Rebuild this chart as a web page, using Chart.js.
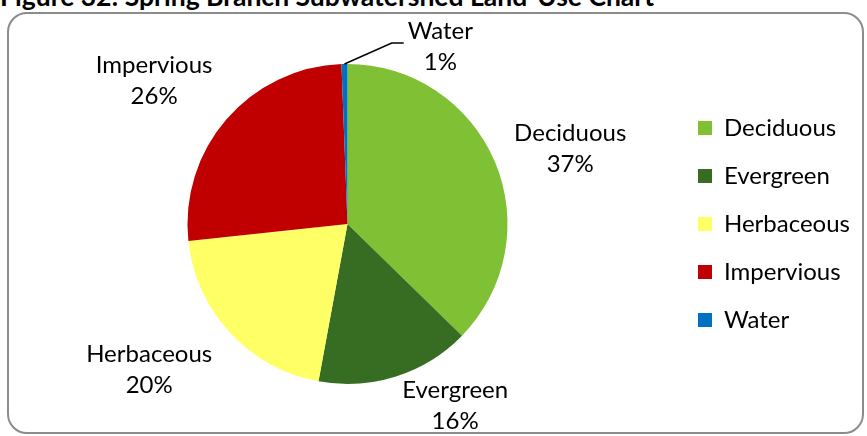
<!DOCTYPE html>
<html>
<head>
<meta charset="utf-8">
<script src="https://cdn.jsdelivr.net/npm/chart.js@4.4.1/dist/chart.umd.min.js"></script>
<style>
  body { margin: 0; background: #fff; overflow: hidden; }
  #wrap { position: relative; width: 867px; height: 436px; }
  #title { position: absolute; left: 0; top: -20px; font: bold 26.5px Lato, sans-serif; color: #000; white-space: nowrap; }
  #frame { position: absolute; left: 7px; top: 12px; width: 857px; height: 422px; box-sizing: border-box;
           border: 2px solid #8c8c8c; border-radius: 20px; pointer-events: none; }
  canvas { position: absolute; left: 0; top: 0; }
</style>
</head>
<body>
<div id="wrap">
  <div id="title">Figure 32: Spring Branch Subwatershed Land-Use Chart</div>
  <div id="frame"></div>
  <canvas id="landUse" width="867" height="436"></canvas>
</div>
<script>
  var landUseLabels = ["Deciduous", "Evergreen", "Herbaceous", "Impervious", "Water"]
  var landUseValues = [37.3, 15.6, 20.4, 26.1, 0.6]
  var landUseColors = ['#80c034', '#376d22', '#ffff66', '#c00000', '#0070c0']

  // nudges for the data labels (Excel "best fit" places them by hand-ish)
  var labelNudge = [[20, 10], [41, -28], [-37, -4], [-27, 0], [97, 42]]

  var labelFont = "24px Lato, sans-serif"

  var pieLabels = {
    id: 'pieLabels',
    afterDatasetsDraw: function(chart) {
      var ctx = chart.ctx
      var meta = chart.getDatasetMeta(0)
      var data = chart.data.datasets[0].data
      var total = data.reduce(function(a, b) { return a + b }, 0)
      ctx.save()
      ctx.font = labelFont
      ctx.fillStyle = '#000'
      ctx.textAlign = 'center'
      ctx.textBaseline = 'alphabetic'
      meta.data.forEach(function(arc, i) {
        var p = arc.getProps(['x', 'y', 'startAngle', 'endAngle', 'outerRadius'], true)
        var mid = (p.startAngle + p.endAngle) / 2
        var cx = p.x + Math.cos(mid) * (p.outerRadius + 60) + labelNudge[i][0]
        var cy = p.y + Math.sin(mid) * (p.outerRadius + 60) + labelNudge[i][1]
        var pct = Math.round(data[i] / total * 100) + '%'
        ctx.fillText(chart.data.labels[i], cx, cy - 15.5 + 8)
        ctx.fillText(pct, cx, cy + 15.5 + 8)

        if (i == 4) {
          // leader line for the tiny water slice
          var w = ctx.measureText(chart.data.labels[i]).width
          var ex = cx - w / 2 - 4
          var ey = cy - 3
          ctx.beginPath()
          ctx.strokeStyle = '#000'
          ctx.lineWidth = 1.5
          ctx.moveTo(p.x + Math.cos(mid) * p.outerRadius, p.y + Math.sin(mid) * p.outerRadius)
          ctx.lineTo(ex - 12, ey)
          ctx.lineTo(ex, ey)
          ctx.stroke()
        }
      })
      ctx.restore()
    }
  }

  var ctx = document.getElementById("landUse").getContext('2d')

  var chartData = {
    type: 'pie',
    data: {
      labels: landUseLabels,
      datasets: [{
        data: landUseValues,
        backgroundColor: landUseColors,
        borderWidth: 0
      }]
    },
    options: {
      responsive: false,
      animation: false,
      layout: { padding: { left: 21, right: 7, top: 64, bottom: 52 } },
      plugins: {
        tooltip: { enabled: false },
        legend: {
          position: 'right',
          align: 'center',
          labels: {
            boxWidth: 14,
            boxHeight: 14,
            padding: 24,
            color: '#000',
            font: { family: 'Lato, sans-serif', size: 24 }
          }
        }
      }
    },
    plugins: [pieLabels]
  }

  var landUseChart = new Chart(ctx, chartData)
</script>
</body>
</html>
